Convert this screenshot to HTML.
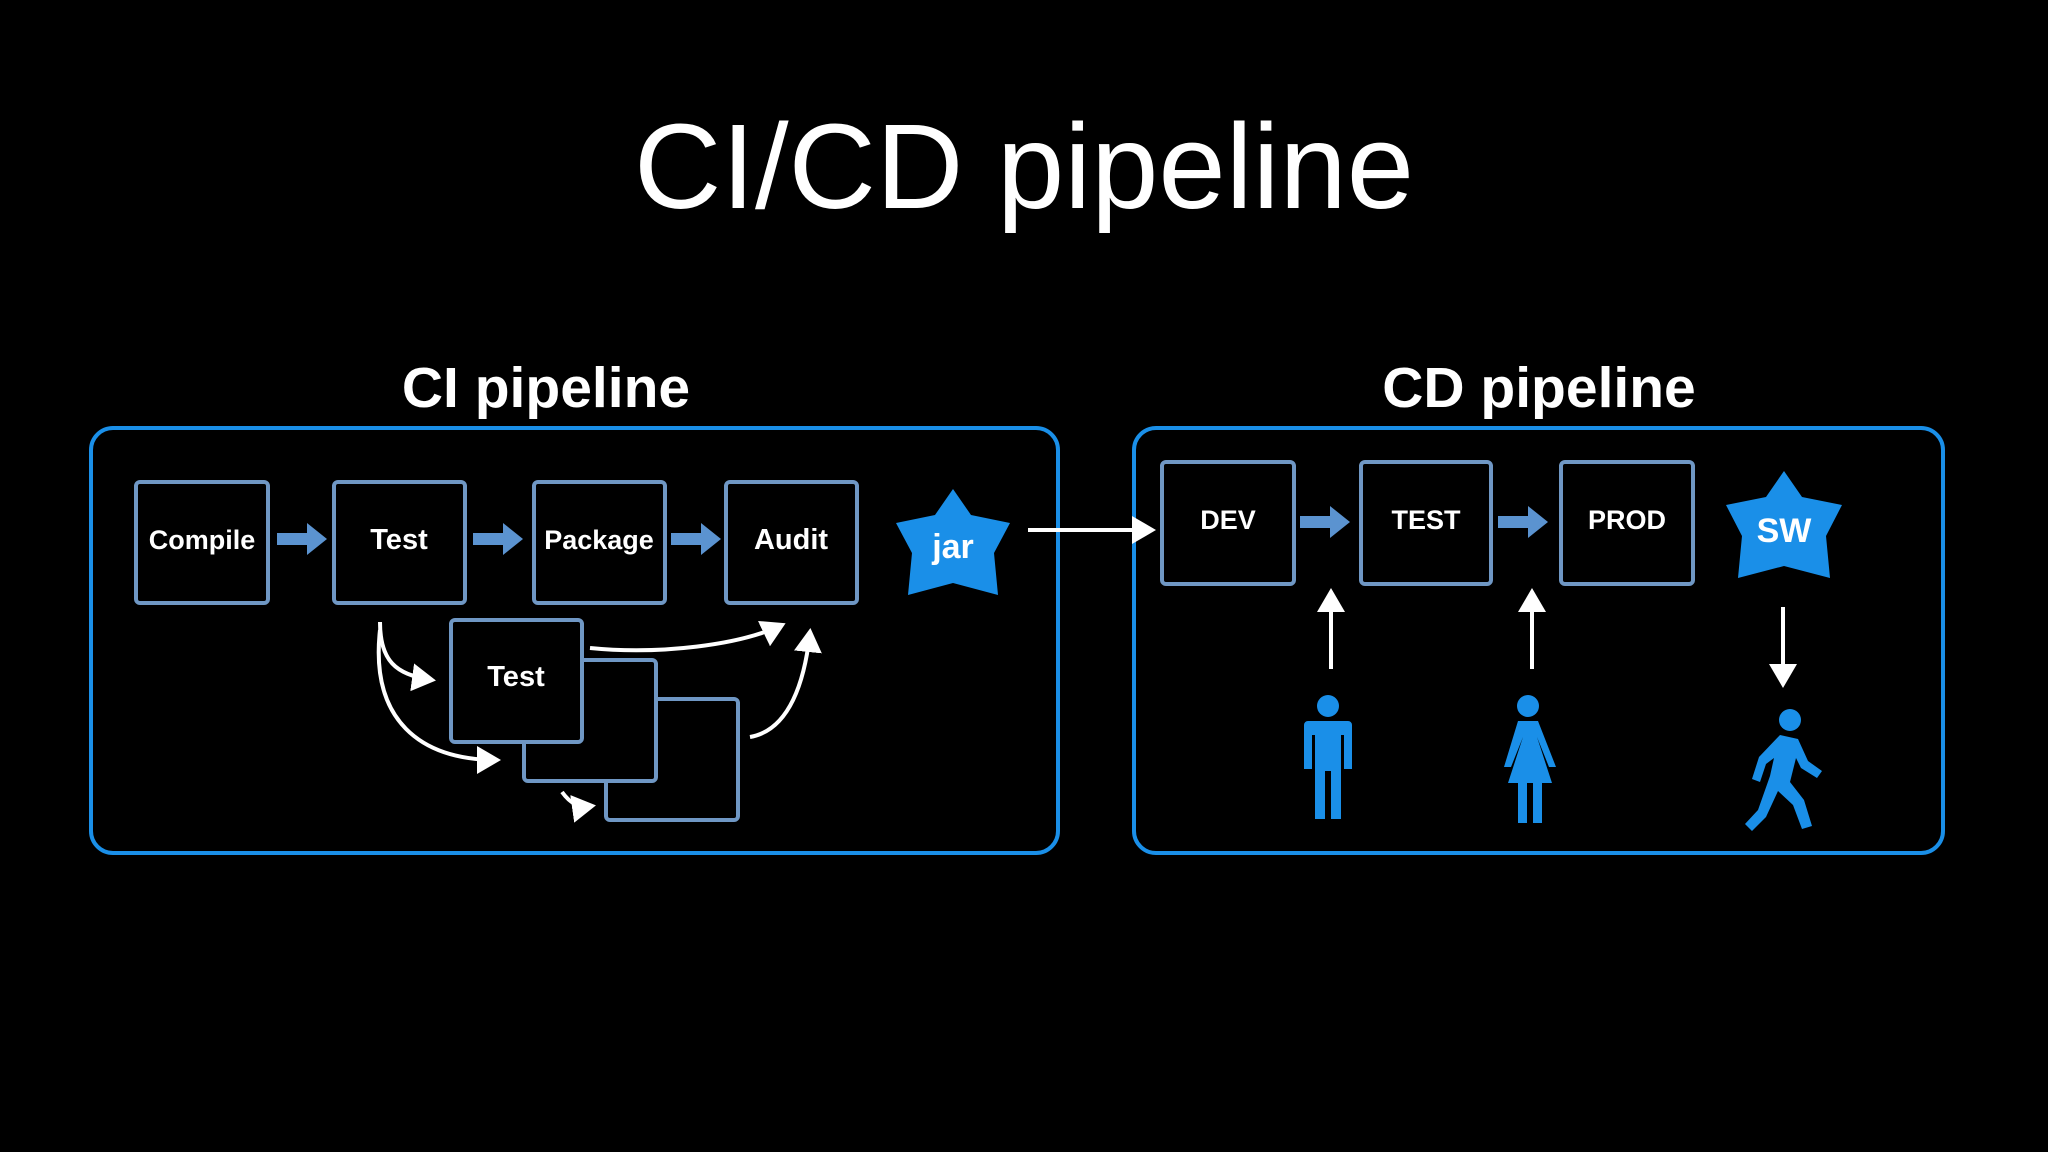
<!DOCTYPE html>
<html><head><meta charset="utf-8"><style>
html,body{margin:0;padding:0;background:#000;}
svg{display:block}
</style></head><body>
<svg width="2048" height="1152" viewBox="0 0 2048 1152" xmlns="http://www.w3.org/2000/svg">
<defs>
<marker id="wa" markerWidth="7" markerHeight="7" refX="5" refY="3.5" orient="auto" markerUnits="strokeWidth"><path d="M0,0 L6,3.5 L0,7 Z" fill="#fff"/></marker>
</defs>
<rect width="2048" height="1152" fill="#000"/>
<text x="1024" y="208" text-anchor="middle" fill="#fff" font-family="Liberation Sans, sans-serif" font-size="121">CI/CD pipeline</text>
<g font-family="Liberation Sans, sans-serif" font-weight="bold" fill="#fff" text-anchor="middle">
<text x="546" y="407" font-size="57">CI pipeline</text>
<text x="1539" y="407" font-size="57">CD pipeline</text>
</g>
<rect x="91" y="428" width="967" height="425" rx="22" fill="none" stroke="#1a8fe8" stroke-width="4"/>
<rect x="1134" y="428" width="809" height="425" rx="22" fill="none" stroke="#1a8fe8" stroke-width="4"/>
<g fill="#000" stroke="#6f97c4" stroke-width="4">
<rect x="606" y="699" width="132" height="121" rx="4"/>
<rect x="524" y="660" width="132" height="121" rx="4"/>
<rect x="451" y="620" width="131" height="122" rx="4"/>
<rect x="136" y="482" width="132" height="121" rx="4"/>
<rect x="334" y="482" width="131" height="121" rx="4"/>
<rect x="534" y="482" width="131" height="121" rx="4"/>
<rect x="726" y="482" width="131" height="121" rx="4"/>
<rect x="1162" y="462" width="132" height="122" rx="4"/>
<rect x="1361" y="462" width="130" height="122" rx="4"/>
<rect x="1561" y="462" width="132" height="122" rx="4"/>
</g>
<g font-family="Liberation Sans, sans-serif" font-weight="bold" fill="#fff" text-anchor="middle" font-size="27">
<text x="202" y="549">Compile</text>
<text x="399" y="549" font-size="29">Test</text>
<text x="599" y="549">Package</text>
<text x="791" y="549" font-size="29">Audit</text>
<text x="516" y="686" font-size="29">Test</text>
<text x="1228" y="529">DEV</text>
<text x="1426" y="529">TEST</text>
<text x="1627" y="529">PROD</text>
</g>
<g fill="#5b93d0">
<path d="M277,533 h30 v-10 l20,16 l-20,16 v-10 h-30 z"/>
<path d="M473,533 h30 v-10 l20,16 l-20,16 v-10 h-30 z"/>
<path d="M671,533 h30 v-10 l20,16 l-20,16 v-10 h-30 z"/>
<path d="M1300,516 h30 v-10 l20,16 l-20,16 v-10 h-30 z"/>
<path d="M1498,516 h30 v-10 l20,16 l-20,16 v-10 h-30 z"/>
</g>
<g fill="#1a8fe8">
<polygon points="953,489 971,515 1010,523 994,553 998,595 953,583 908,595 912,553 896,523 935,515"/>
<polygon points="1784,471 1802,497 1842,505 1826,536 1830,578 1784,566 1738,578 1742,536 1726,505 1766,497"/>
</g>
<g font-family="Liberation Sans, sans-serif" font-weight="bold" fill="#fff" text-anchor="middle" font-size="34">
<text x="953" y="558">jar</text>
<text x="1784" y="542">SW</text>
</g>
<g stroke="#fff" stroke-width="4" fill="none" marker-end="url(#wa)">
<path d="M1028,530 L1152,530"/>
<path d="M1331,669 L1331,592"/>
<path d="M1532,669 L1532,592"/>
<path d="M1783,607 L1783,684"/>
<path d="M380,622 C380,660 395,675 432,680"/>
<path d="M380,630 C370,720 420,760 497,760"/>
<path d="M562,792 C570,803 578,808 592,806"/>
<path d="M590,648 C660,655 740,645 782,625"/>
<path d="M750,737 C790,730 805,680 810,632"/>
</g>
<g fill="#1a8fe8">
<circle cx="1328" cy="706" r="11"/>
<path d="M1308,721 h40 a4,4 0 0 1 4,4 v44 h-8 v-34 h-3 v84 h-10 v-48 h-6 v48 h-10 v-84 h-3 v34 h-8 v-44 a4,4 0 0 1 4,-4z"/>
<circle cx="1528" cy="706" r="11"/>
<path d="M1518,721 h20 l18,46 h-7 l-12,-30 l15,46 h-10 v40 h-9 v-40 h-6 v40 h-9 v-40 h-10 l15,-46 l-12,30 h-7 z"/>
<circle cx="1790" cy="720" r="11"/>
<path d="M1780,735 l18,4 l10,22 l14,10 l-5,7 l-16,-10 l-5,-10 l-6,24 l14,18 l8,26 l-10,3 l-9,-24 l-15,-14 l-12,26 l-14,14 l-7,-7 l13,-14 l12,-34 l4,-18 l-8,6 l-6,18 l-8,-3 l7,-22 z"/>
</g>
</svg>
</body></html>
